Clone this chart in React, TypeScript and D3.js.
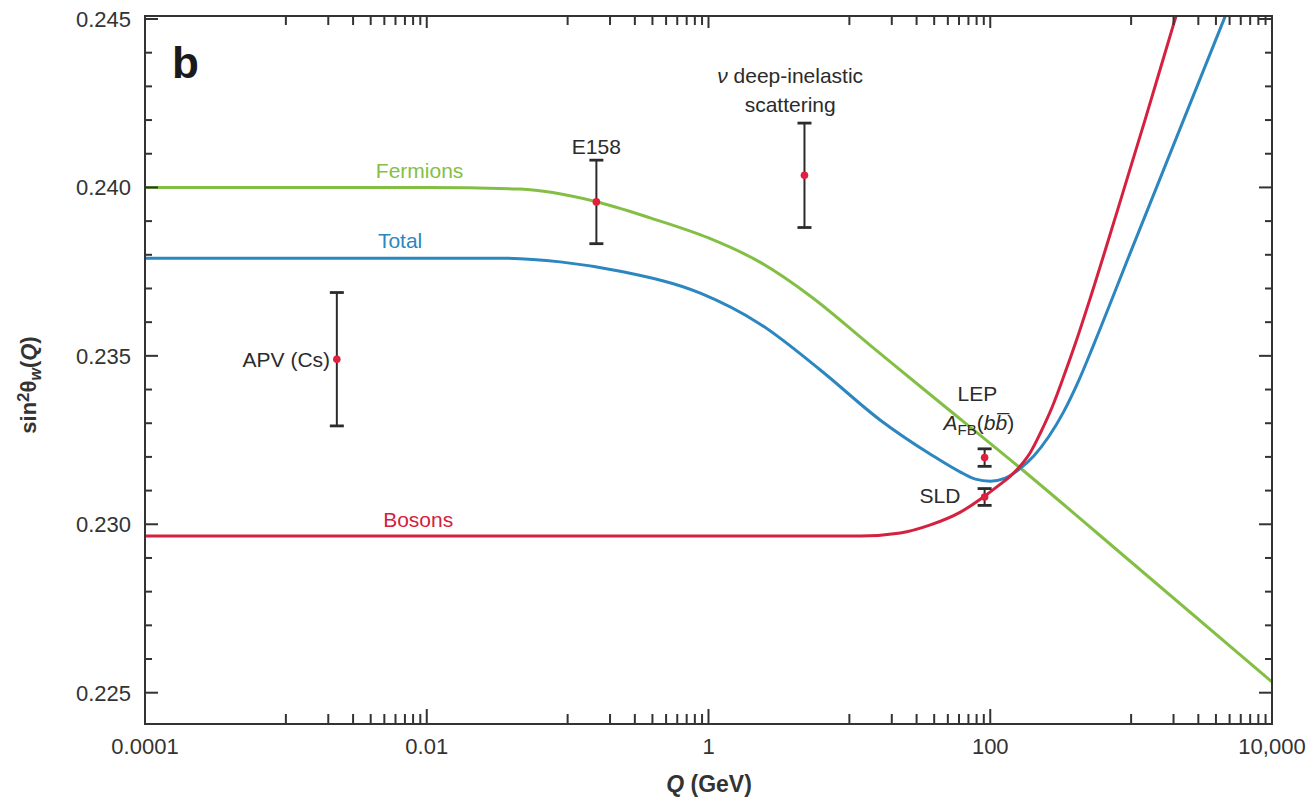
import React, { useRef, useEffect } from 'react';
import * as d3 from 'd3';

// ---- axis ticks ----
const qMajorTicks = [1e-4, 1e-2, 1, 1e2, 1e4];
const qMajorLabels = ['0.0001', '0.01', '1', '100', '10,000'];
const qMinorTicks = [
  1e-3, 2e-3, 3e-3, 4e-3, 5e-3, 6e-3, 7e-3, 8e-3, 9e-3,
  0.1, 0.2, 0.3, 0.4, 0.5, 0.6, 0.7, 0.8, 0.9,
  10, 20, 30, 40, 50, 60, 70, 80, 90,
  1000, 2000, 3000, 4000, 5000, 6000, 7000, 8000, 9000,
];
const sinMajorTicks = [0.225, 0.23, 0.235, 0.24, 0.245];
const sinMajorLabels = ['0.225', '0.230', '0.235', '0.240', '0.245'];
const sinMinorTicks = [
  0.226, 0.227, 0.228, 0.229, 0.231, 0.232, 0.233, 0.234,
  0.236, 0.237, 0.238, 0.239, 0.241, 0.242, 0.243, 0.244,
];

// ---- curves (Q in GeV, sin^2 theta_w) ----
const fermionsQ = [1e-4, 0.01, 0.046, 0.155, 0.39, 1, 2.3, 5.3, 14, 38, 160, 1000, 10000];
const fermionsV = [0.2400, 0.2400, 0.23995, 0.23959, 0.23909, 0.2385, 0.23779, 0.23677, 0.23532, 0.23383, 0.2317, 0.22888, 0.22532];

const totalQ = [1e-4, 0.0332, 0.0886, 0.236, 0.875, 2.33, 6.22, 16.6, 37.6, 61.4, 78.5, 100, 128, 161, 203, 259, 331, 423, 541, 991, 1905, 4530, 6500];
const totalV = [0.2379, 0.2379, 0.23779, 0.23751, 0.23686, 0.23594, 0.23458, 0.23309, 0.23208, 0.23155, 0.23134, 0.23128, 0.23137, 0.23164, 0.23202, 0.23259, 0.23333, 0.23425, 0.23532, 0.23808, 0.24104, 0.24496, 0.24659];

const bosonsQ = [1e-4, 12, 23, 37.6, 61.4, 89.5, 118, 139, 161, 193, 227, 277, 331, 403, 515, 800, 1265, 2000, 2642];
const bosonsV = [0.22965, 0.22965, 0.22974, 0.22998, 0.23036, 0.23081, 0.23119, 0.23143, 0.2317, 0.23214, 0.23271, 0.23351, 0.23437, 0.23538, 0.23674, 0.23932, 0.24205, 0.24484, 0.24653];

// ---- measurements ----
const measNames = ['APV', 'E158', 'NuTeV', 'LEP', 'SLD'];
const measQ = [0.0023, 0.16, 4.8, 91.19, 91.19];
const measV = [0.2349, 0.23957, 0.24036, 0.23198, 0.23081];
const measErr = [0.00198, 0.00124, 0.00155, 0.00026, 0.00025];

const W = 1308;
const H = 799;
const box = { left: 145, right: 1272, top: 16, bottom: 724 };
const font = "'Liberation Sans', Arial, sans-serif";
const GREEN = '#84bf45';
const BLUE = '#2c86c0';
const RED = '#d4213f';
const INK = '#2b2b2b';

const App: React.FC = () => {
  const svgRef = useRef<SVGSVGElement | null>(null);

  useEffect(() => {
    const svg = d3.select(svgRef.current);
    svg.selectAll('*').remove();

    const x = d3.scaleLog().domain([1e-4, 1e4]).range([box.left, box.right]);
    const y = d3.scaleLinear().domain([0.225, 0.245]).range([692.7, 19]);

    svg.append('rect').attr('width', W).attr('height', H).attr('fill', '#fff');

    svg.append('defs').append('clipPath').attr('id', 'plot-clip')
      .append('rect')
      .attr('x', box.left).attr('y', box.top)
      .attr('width', box.right - box.left).attr('height', box.bottom - box.top);

    // curves
    const line = d3.line<[number, number]>()
      .x(d => x(d[0]))
      .y(d => y(d[1]))
      .curve(d3.curveMonotoneX);
    const curves = [
      { q: fermionsQ, v: fermionsV, c: GREEN },
      { q: totalQ, v: totalV, c: BLUE },
      { q: bosonsQ, v: bosonsV, c: RED },
    ];
    const gCurves = svg.append('g').attr('clip-path', 'url(#plot-clip)');
    curves.forEach(cv => {
      gCurves.append('path')
        .datum(cv.q.map((q, i) => [q, cv.v[i]] as [number, number]))
        .attr('d', line)
        .attr('fill', 'none')
        .attr('stroke', cv.c)
        .attr('stroke-width', 3);
    });

    // frame
    svg.append('rect')
      .attr('x', box.left).attr('y', box.top)
      .attr('width', box.right - box.left).attr('height', box.bottom - box.top)
      .attr('fill', 'none').attr('stroke', '#333').attr('stroke-width', 2);

    const gTicks = svg.append('g').attr('stroke', '#333').attr('stroke-width', 2);
    // x ticks bottom + top
    qMajorTicks.forEach(q => {
      gTicks.append('line').attr('x1', x(q)).attr('x2', x(q)).attr('y1', box.bottom).attr('y2', box.bottom - 15);
      gTicks.append('line').attr('x1', x(q)).attr('x2', x(q)).attr('y1', box.top).attr('y2', box.top + 12);
    });
    qMinorTicks.forEach(q => {
      gTicks.append('line').attr('x1', x(q)).attr('x2', x(q)).attr('y1', box.bottom).attr('y2', box.bottom - 10);
      gTicks.append('line').attr('x1', x(q)).attr('x2', x(q)).attr('y1', box.top).attr('y2', box.top + 9);
    });
    // y ticks left + right
    sinMajorTicks.forEach(v => {
      gTicks.append('line').attr('x1', box.left).attr('x2', box.left + 13).attr('y1', y(v)).attr('y2', y(v));
      gTicks.append('line').attr('x1', box.right).attr('x2', box.right - 13).attr('y1', y(v)).attr('y2', y(v));
    });
    sinMinorTicks.forEach(v => {
      gTicks.append('line').attr('x1', box.left).attr('x2', box.left + 7).attr('y1', y(v)).attr('y2', y(v));
      gTicks.append('line').attr('x1', box.right).attr('x2', box.right - 7).attr('y1', y(v)).attr('y2', y(v));
    });

    // tick labels
    const gLab = svg.append('g').attr('font-family', font).attr('font-size', 22).attr('fill', '#333');
    qMajorTicks.forEach((q, i) => {
      gLab.append('text').attr('x', x(q)).attr('y', 754).attr('text-anchor', 'middle').text(qMajorLabels[i]);
    });
    sinMajorTicks.forEach((v, i) => {
      gLab.append('text').attr('x', 131).attr('y', y(v) + 8).attr('text-anchor', 'end').text(sinMajorLabels[i]);
    });

    // axis titles
    const xt = svg.append('text').attr('x', 709).attr('y', 792).attr('text-anchor', 'middle')
      .attr('font-family', font).attr('font-size', 23).attr('font-weight', 'bold').attr('fill', '#333');
    xt.append('tspan').attr('font-style', 'italic').text('Q');
    xt.append('tspan').text(' (GeV)');

    const yt = svg.append('text').attr('transform', 'translate(36,385) rotate(-90)').attr('text-anchor', 'middle')
      .attr('font-family', font).attr('font-size', 22).attr('font-weight', 'bold').attr('fill', '#333');
    yt.append('tspan').text('sin');
    yt.append('tspan').attr('dy', -7).attr('font-size', 17).text('2');
    yt.append('tspan').attr('dy', 7).text('θ');
    yt.append('tspan').attr('dy', 5).attr('font-size', 16).attr('font-style', 'italic').text('w');
    yt.append('tspan').attr('dy', -5).text('(');
    yt.append('tspan').attr('font-style', 'italic').text('Q');
    yt.append('tspan').text(')');

    // panel letter
    svg.append('text').attr('x', 172).attr('y', 78).attr('font-family', font)
      .attr('font-size', 44).attr('font-weight', 'bold').attr('fill', '#1a1a1a').text('b');

    // error bars + points
    const gMeas = svg.append('g');
    measQ.forEach((q, i) => {
      const cx = x(q);
      const top = y(measV[i] + measErr[i]);
      const bot = y(measV[i] - measErr[i]);
      gMeas.append('line').attr('x1', cx).attr('x2', cx).attr('y1', top).attr('y2', bot)
        .attr('stroke', INK).attr('stroke-width', 2);
      [top, bot].forEach(yy => {
        gMeas.append('line').attr('x1', cx - 7).attr('x2', cx + 7).attr('y1', yy).attr('y2', yy)
          .attr('stroke', INK).attr('stroke-width', 2.8);
      });
      gMeas.append('circle').attr('cx', cx).attr('cy', y(measV[i])).attr('r', 3.8).attr('fill', '#e0203f')
        .attr('data-name', measNames[i]);
    });

    // labels
    const ann = svg.append('g').attr('font-family', font).attr('font-size', 21);
    const label = (q: number, v: number, txt: string, color: string, anchor = 'middle') =>
      ann.append('text').attr('x', x(q)).attr('y', y(v)).attr('dy', '0.35em')
        .attr('text-anchor', anchor).attr('fill', color).text(txt);

    label(0.0089, 0.24051, 'Fermions', GREEN);
    label(0.00647, 0.23843, 'Total', BLUE);
    label(0.00869, 0.23015, 'Bosons', RED);
    label(0.16, 0.24122, 'E158', INK);
    label(0.00206, 0.2349, 'APV (Cs)', INK, 'end');
    label(3.8, 0.24247, 'scattering', INK);
    label(81, 0.23389, 'LEP', INK);
    label(61.4, 0.23084, 'SLD', INK, 'end');

    const nu = ann.append('text').attr('x', x(3.8)).attr('y', y(0.24333)).attr('dy', '0.35em')
      .attr('text-anchor', 'middle').attr('fill', INK);
    nu.append('tspan').attr('font-style', 'italic').text('ν');
    nu.append('tspan').text(' deep-inelastic');

    const afb = ann.append('text').attr('x', x(83)).attr('y', y(0.23303)).attr('dy', '0.35em')
      .attr('text-anchor', 'middle').attr('fill', INK);
    afb.append('tspan').attr('font-style', 'italic').text('A');
    afb.append('tspan').attr('dy', 5).attr('font-size', 15).text('FB');
    afb.append('tspan').attr('dy', -5).text('(');
    afb.append('tspan').attr('font-style', 'italic').text('b');
    afb.append('tspan').attr('font-style', 'italic').text('b\u0305');
    afb.append('tspan').text(')');
  }, []);

  return (
    <svg ref={svgRef} width={W} height={H} style={{ position: 'absolute', left: 0, top: 0, display: 'block' }} />
  );
};

export default App;
